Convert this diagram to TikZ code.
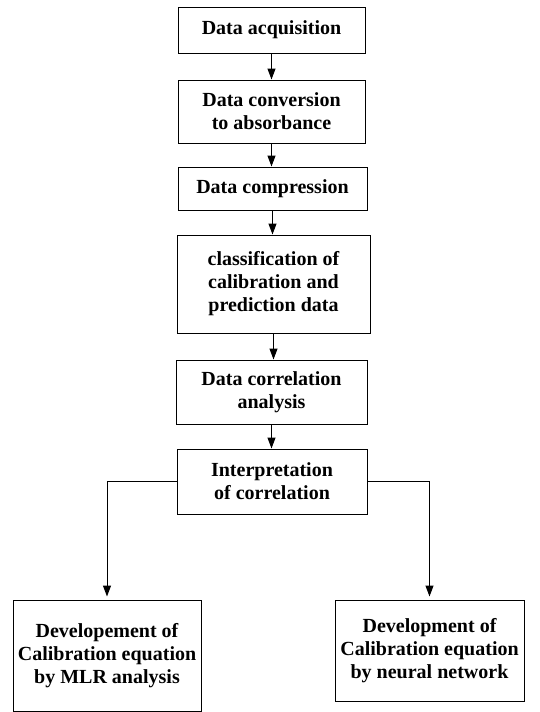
\documentclass[tikz,border=0pt]{standalone}
\usepackage{fontspec}
\setmainfont{Liberation Serif}
\usetikzlibrary{arrows.meta, calc}
\tikzset{
  stg/.style args={#1/#2}{
    rectangle, draw=black, fill=white,
    font=\fontsize{20}{23}\selectfont\bfseries, align=center,
    inner sep=2pt, minimum width=#1, minimum height=#2,
    line width=1pt,
  },
  arr/.style={
    -{Triangle[length=11pt,width=8pt]},
    line width=1pt,
  },
}

\begin{document}
\begin{tikzpicture}[x=1pt,y=-1pt]
    \useasboundingbox (0,0) rectangle (539,712);
    % main column
    \foreach \n/\lbl/\x/\y/\w/\h in {1/{Data acquisition}/271.5/30/187/46,
                            2/{Data conversion\\to absorbance}/271.5/111.5/187/63,
                            3/{Data compression}/272.5/188.5/189/43,
                            4/{classification of\\calibration and\\prediction data}/273.5/284/193/98,
                            5/{Data correlation\\analysis}/271.5/392/191/64,
                            6/{Interpretation\\of correlation}/272/481.5/190/65}{
      \node[stg={\w pt}/{\h pt}] (s\n) at (\x,\y) {\lbl};
    }
    \foreach \a/\b in {1/2, 2/3, 3/4, 4/5, 5/6}{
      \draw[arr] (s\a.south) -- (s\a.south |- s\b.north);
    }
    % two branches
    \node[stg=188pt/111pt] (mlr) at (107,655.5) {Developement of\\Calibration equation\\by MLR analysis};
    \node[stg=189pt/101pt] (ann) at (429.5,650.5) {Development of\\Calibration equation\\by neural network};
    \draw[arr, shorten >=3pt] (s6.west) -| (mlr.north);
    \draw[arr, shorten >=3pt] (s6.east) -| (ann.north);
\end{tikzpicture}
\end{document}
